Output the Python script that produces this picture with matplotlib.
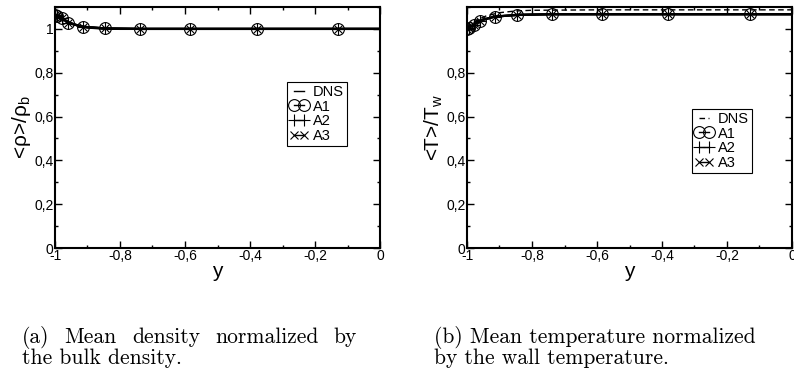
import numpy as np
import matplotlib
matplotlib.use('Agg')
import matplotlib.pyplot as plt
from matplotlib.ticker import MultipleLocator, FuncFormatter

plt.rcParams['font.family'] = ['Liberation Sans', 'DejaVu Sans']
plt.rcParams['mathtext.fontset'] = 'custom'
plt.rcParams['mathtext.rm'] = 'Liberation Sans'
plt.rcParams['mathtext.it'] = 'Liberation Sans:italic'

# wall-normal positions of the model samples
y_model = [-1.0, -0.994, -0.98, -0.96, -0.915, -0.845, -0.74, -0.585, -0.38, -0.13, 0.0]

# density, DNS
y_dns_rho = [-1.0, -0.99, -0.98, -0.96, -0.94, -0.92, -0.9, -0.85, -0.8, -0.7, -0.5, -0.3, 0.0]
rho_dns = [1.066, 1.058, 1.051, 1.033, 1.020, 1.011, 1.006, 1.001, 1.0, 1.0, 1.0, 1.0, 1.0]
# density, models
rho_a1 = [1.065, 1.060, 1.052, 1.028, 1.010, 1.002, 1.0, 1.0, 1.0, 1.0, 1.0]
rho_a2 = [1.065, 1.060, 1.052, 1.028, 1.010, 1.002, 1.0, 1.0, 1.0, 1.0, 1.0]
rho_a3 = [1.065, 1.060, 1.052, 1.028, 1.010, 1.002, 1.0, 1.0, 1.0, 1.0, 1.0]

# temperature, DNS
y_dns_T = [-1.0, -0.99, -0.97, -0.94, -0.9, -0.85, -0.8, -0.6, -0.3, 0.0]
T_dns = [1.0, 1.016, 1.040, 1.060, 1.074, 1.082, 1.085, 1.087, 1.087, 1.087]
# temperature, models
T_a1 = [1.0, 1.006, 1.018, 1.038, 1.056, 1.064, 1.067, 1.067, 1.067, 1.067, 1.067]
T_a2 = [1.0, 1.006, 1.018, 1.038, 1.056, 1.064, 1.067, 1.067, 1.067, 1.067, 1.067]
T_a3 = [1.0, 1.006, 1.018, 1.038, 1.056, 1.064, 1.067, 1.067, 1.067, 1.067, 1.067]

caption_a = ['(a) Mean density normalized by', 'the bulk density.']
caption_b = ['(b) Mean temperature normalized', 'by the wall temperature.']


def comma(v, pos):
    v = round(v, 3)
    if v == 0:
        return '0'
    return ('%g' % v).replace('.', ',')


def comma_no_one(v, pos):
    if abs(v - 1) < 1e-9:
        return ''
    return comma(v, pos)


def style(ax, yfmt):
    ax.set_xlim(-1, 0)
    ax.set_ylim(0, 1.1)
    ax.xaxis.set_major_locator(MultipleLocator(0.2))
    ax.xaxis.set_minor_locator(MultipleLocator(0.1))
    ax.yaxis.set_major_locator(MultipleLocator(0.2))
    ax.yaxis.set_minor_locator(MultipleLocator(0.1))
    ax.xaxis.set_major_formatter(FuncFormatter(comma))
    ax.yaxis.set_major_formatter(FuncFormatter(yfmt))
    ax.tick_params(which='both', direction='in', top=True, right=True, width=1, labelsize=10, pad=1)
    ax.tick_params(which='major', length=5)
    ax.tick_params(which='minor', length=2.5)
    for s in ax.spines.values():
        s.set_linewidth(1.5)
    ax.set_xlabel('y', fontsize=15, labelpad=-1)


def models(ax, a1, a2, a3):
    mk = list(range(len(y_model) - 1))
    ax.plot(y_model, a1, color='k', lw=1.6, marker='o', ms=8.5, mfc='none', mew=0.8, markevery=mk, label='A1')
    ax.plot(y_model, a2, color='k', lw=1.6, marker='+', ms=8.5, mew=0.8, markevery=mk, label='A2')
    ax.plot(y_model, a3, color='k', lw=1.6, marker='x', ms=6, mew=0.8, markevery=mk, label='A3')


def legend(ax, anchor):
    leg = ax.legend(loc='upper right', bbox_to_anchor=anchor, fontsize=10.5, numpoints=2,
                    handlelength=1.3, handletextpad=0.3, labelspacing=0.05, borderpad=0.2,
                    borderaxespad=0, fancybox=False, edgecolor='k', framealpha=1)
    leg.get_frame().set_linewidth(0.8)
    for h in leg.legend_handles:
        h.set_linewidth(1.0)
    return leg


fig = plt.figure(figsize=(7.94, 3.78), dpi=100)
ax1 = fig.add_axes([55 / 794, 130 / 378, 325 / 794, 241 / 378])
ax2 = fig.add_axes([467 / 794, 130 / 378, 325 / 794, 241 / 378])

# (a) density
ax1.plot(y_dns_rho, rho_dns, color='k', lw=1.6, label='DNS')
models(ax1, rho_a1, rho_a2, rho_a3)
style(ax1, comma)
ax1.set_ylabel('<ρ>/ρ$_\\mathrm{b}$', fontsize=15, labelpad=1)
legend(ax1, (0.898, 0.689))

# (b) temperature
ax2.plot(y_dns_T, T_dns, color='k', lw=1.0, ls=(0, (4, 2.5)), label='DNS')
models(ax2, T_a1, T_a2, T_a3)
style(ax2, comma_no_one)
ax2.set_ylabel('<T>/T$_\\mathrm{w}$', fontsize=15, labelpad=1)
legend(ax2, (0.877, 0.577))

# captions, LaTeX-like, first line of (a) justified
cap = dict(family='cmr10', fontsize=15.5, va='baseline')
base1, base2 = 1 - 343 / 378, 1 - 364 / 378

words = caption_a[0].split()
texts = [fig.text(0, base1, w, **cap) for w in words]
renderer = fig.canvas.get_renderer()
widths = [t.get_window_extent(renderer).width for t in texts]
x0, x1 = 22, 357
gap = (x1 - x0 - sum(widths)) / (len(words) - 1)
x = x0
for t, w in zip(texts, widths):
    t.set_x(x / 794)
    x += w + gap
fig.text(22 / 794, base2, caption_a[1], **cap)
fig.text(434 / 794, base1, caption_b[0], **cap)
fig.text(434 / 794, base2, caption_b[1], **cap)

fig.savefig('out.png', dpi=100)
